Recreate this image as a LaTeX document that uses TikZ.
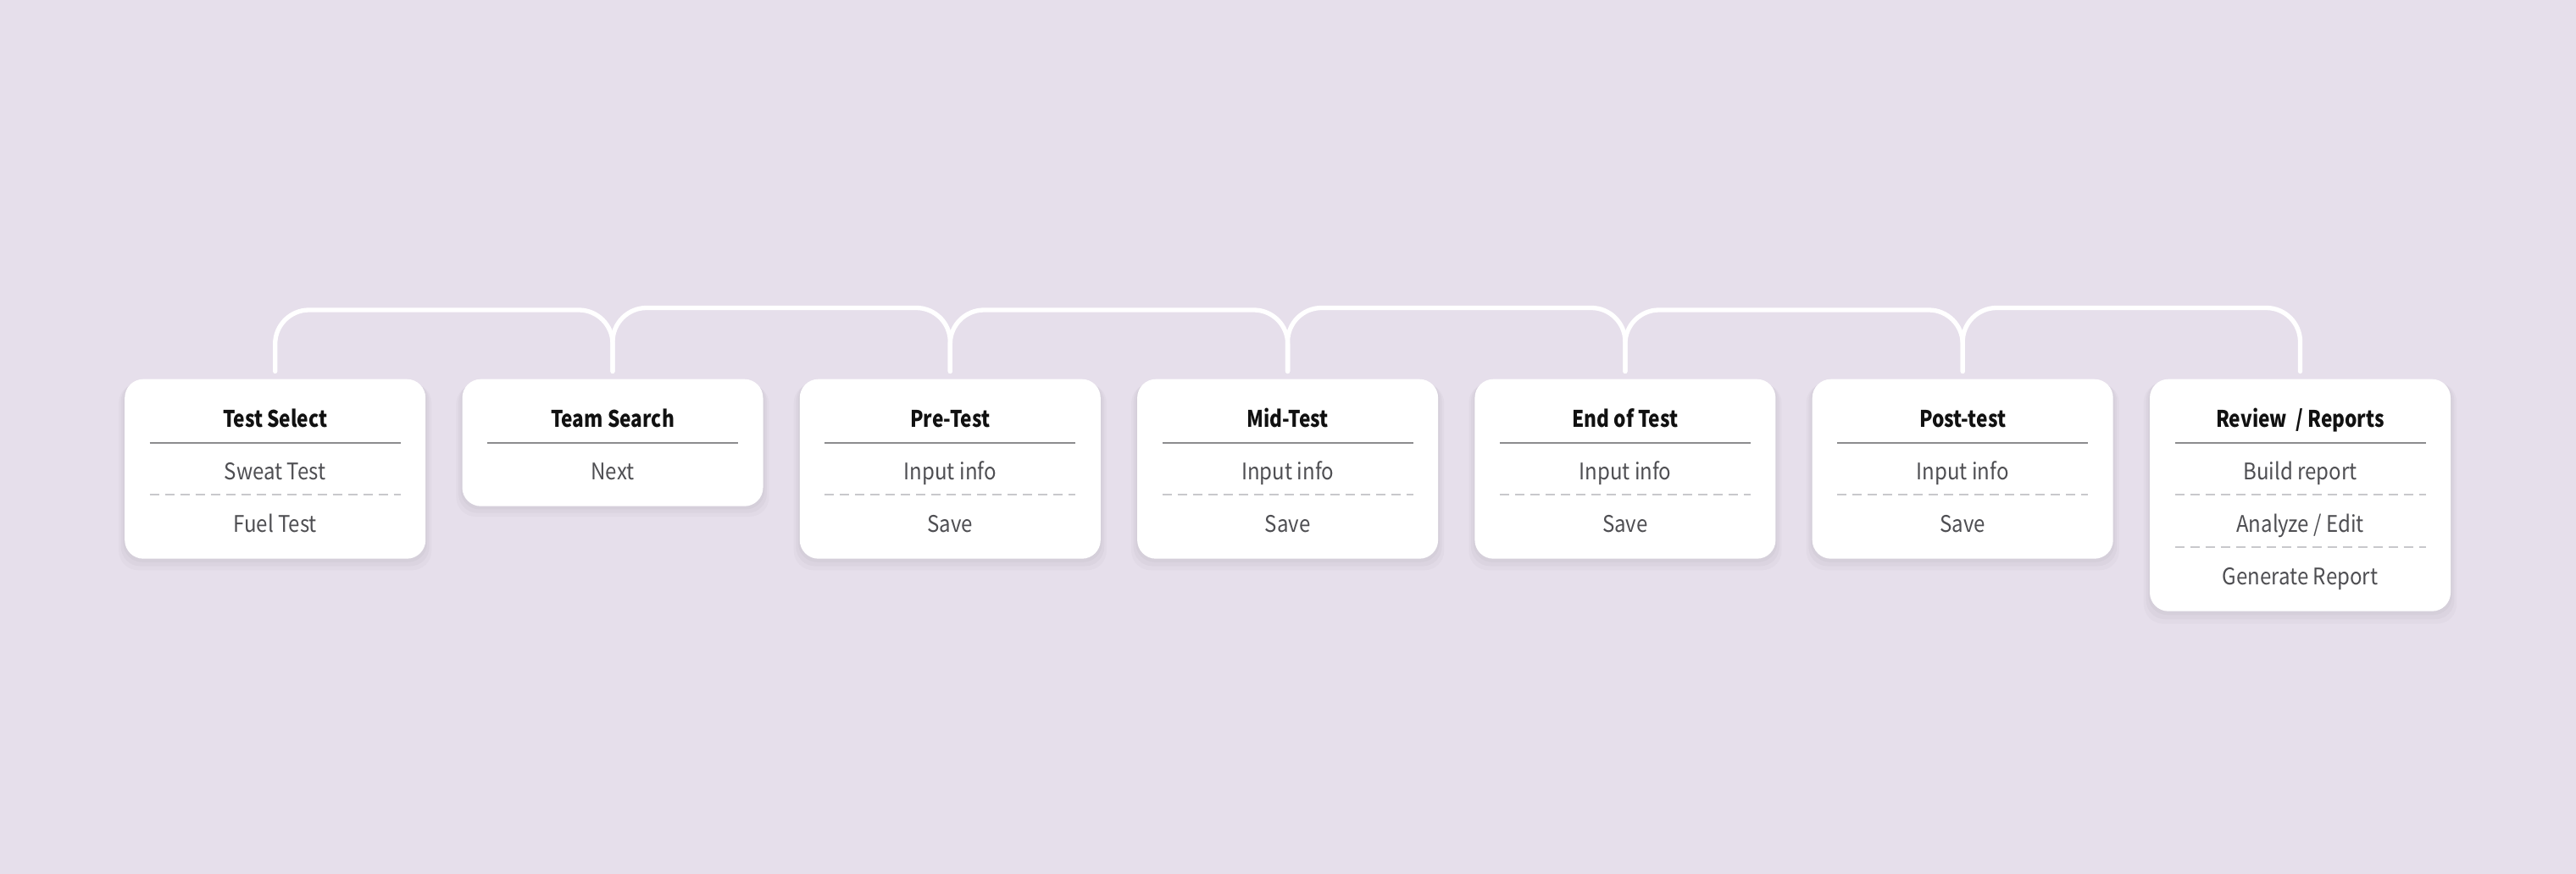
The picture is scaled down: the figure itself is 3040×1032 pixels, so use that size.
\documentclass[tikz,border=0pt]{standalone}
\usepackage{fontspec}
\usepackage{tikz}
\usepackage{xcolor}
\setmainfont{Noto Sans CJK SC}[FakeStretch=0.89, BoldFeatures={FakeStretch=0.84}]
\usetikzlibrary{shadows}

\definecolor{bgpurple}{RGB}{230,223,235}
\definecolor{titleink}{RGB}{17,17,17}
\definecolor{itemink}{RGB}{78,78,82}
\definecolor{rulegrey}{RGB}{140,140,142}
\definecolor{dashgrey}{RGB}{200,200,204}

\tikzset{
    card/.style={fill=white, rounded corners=22pt, minimum width=355pt, anchor=north, inner sep=0pt,
        general shadow={fill=black, opacity=0.018, shadow yshift=-9pt, shadow scale=1.04},
        general shadow={fill=black, opacity=0.022, shadow yshift=-6pt, shadow scale=1.025},
        general shadow={fill=black, opacity=0.025, shadow yshift=-3pt, shadow scale=1.01}},
    ttl/.style={anchor=base, font=\fontsize{27}{32}\selectfont\bfseries, text=titleink},
    itm/.style={anchor=base, font=\fontsize{27}{32}\selectfont, text=itemink},
    solidrule/.style={draw=rulegrey, line width=2pt},
    dashrule/.style={draw=dashgrey, line width=2pt, dash pattern=on 11pt off 7pt},
    link/.style={draw=white, line width=5.3pt, line cap=round, rounded corners=40pt}
}

\begin{document}
\begin{tikzpicture}[x=1pt,y=-1pt]
        % page
        \fill[bgpurple] (0,0) rectangle (3040,1032);
        \useasboundingbox (0,0) rectangle (3040,1032);

        % test select
        \node[card, minimum height=212pt] (sel) at (324.7,447.5) {};
        \node[ttl] (selt) at (324.7,504) {Test Select};
        \draw[solidrule] (176.7,522.7) -- (472.7,522.7);
        \node[itm] (sel1) at (324.7,566) {Sweat Test};
        \draw[dashrule] (176.7,583.6) -- (472.7,583.6);
        \node[itm] (sel2) at (324.7,628) {Fuel Test};

        % team search
        \node[card, minimum height=150pt] (team) at (723.0,447.5) {};
        \node[ttl] (teamt) at (723.0,504) {Team Search};
        \draw[solidrule] (575.0,522.7) -- (871.0,522.7);
        \node[itm] (team1) at (723.0,566) {Next};

        % pre-test
        \node[card, minimum height=212pt] (pre) at (1121.3,447.5) {};
        \node[ttl] (pret) at (1121.3,504) {Pre-Test};
        \draw[solidrule] (973.3,522.7) -- (1269.3,522.7);
        \node[itm] (pre1) at (1121.3,566) {Input info};
        \draw[dashrule] (973.3,583.6) -- (1269.3,583.6);
        \node[itm] (pre2) at (1121.3,628) {Save};

        % mid-test
        \node[card, minimum height=212pt] (mid) at (1519.6,447.5) {};
        \node[ttl] (midt) at (1519.6,504) {Mid-Test};
        \draw[solidrule] (1371.6,522.7) -- (1667.6,522.7);
        \node[itm] (mid1) at (1519.6,566) {Input info};
        \draw[dashrule] (1371.6,583.6) -- (1667.6,583.6);
        \node[itm] (mid2) at (1519.6,628) {Save};

        % end of test
        \node[card, minimum height=212pt] (end) at (1917.9,447.5) {};
        \node[ttl] (endt) at (1917.9,504) {End of Test};
        \draw[solidrule] (1769.9,522.7) -- (2065.9,522.7);
        \node[itm] (end1) at (1917.9,566) {Input info};
        \draw[dashrule] (1769.9,583.6) -- (2065.9,583.6);
        \node[itm] (end2) at (1917.9,628) {Save};

        % post-test
        \node[card, minimum height=212pt] (post) at (2316.2,447.5) {};
        \node[ttl] (postt) at (2316.2,504) {Post-test};
        \draw[solidrule] (2168.2,522.7) -- (2464.2,522.7);
        \node[itm] (post1) at (2316.2,566) {Input info};
        \draw[dashrule] (2168.2,583.6) -- (2464.2,583.6);
        \node[itm] (post2) at (2316.2,628) {Save};

        % review / reports
        \node[card, minimum height=274pt] (rev) at (2714.5,447.5) {};
        \node[ttl] (revt) at (2714.5,504) {Review\ \ / Reports};
        \draw[solidrule] (2566.5,522.7) -- (2862.5,522.7);
        \node[itm] (rev1) at (2714.5,566) {Build report};
        \draw[dashrule] (2566.5,583.6) -- (2862.5,583.6);
        \node[itm] (rev2) at (2714.5,628) {Analyze / Edit};
        \draw[dashrule] (2566.5,645.6) -- (2862.5,645.6);
        \node[itm] (rev3) at (2714.5,690) {Generate Report};

        % stubs above the cards
        \coordinate (selp) at ([yshift=9pt]sel.north);
        \coordinate (teamp) at ([yshift=9pt]team.north);
        \coordinate (prep) at ([yshift=9pt]pre.north);
        \coordinate (midp) at ([yshift=9pt]mid.north);
        \coordinate (endp) at ([yshift=9pt]end.north);
        \coordinate (postp) at ([yshift=9pt]post.north);
        \coordinate (revp) at ([yshift=9pt]rev.north);

        % arch tops
        \coordinate (arch1) at (523.9,366);
        \coordinate (arch2) at (922.2,363.5);
        \coordinate (arch3) at (1320.5,366);
        \coordinate (arch4) at (1718.8,363.5);
        \coordinate (arch5) at (2117.1,366);
        \coordinate (arch6) at (2515.4,363.5);

        % arches
        \draw[link] (selp) |- (arch1) -| (teamp);
        \draw[link] (teamp) |- (arch2) -| (prep);
        \draw[link] (prep) |- (arch3) -| (midp);
        \draw[link] (midp) |- (arch4) -| (endp);
        \draw[link] (endp) |- (arch5) -| (postp);
        \draw[link] (postp) |- (arch6) -| (revp);
    \end{tikzpicture}
\end{document}
